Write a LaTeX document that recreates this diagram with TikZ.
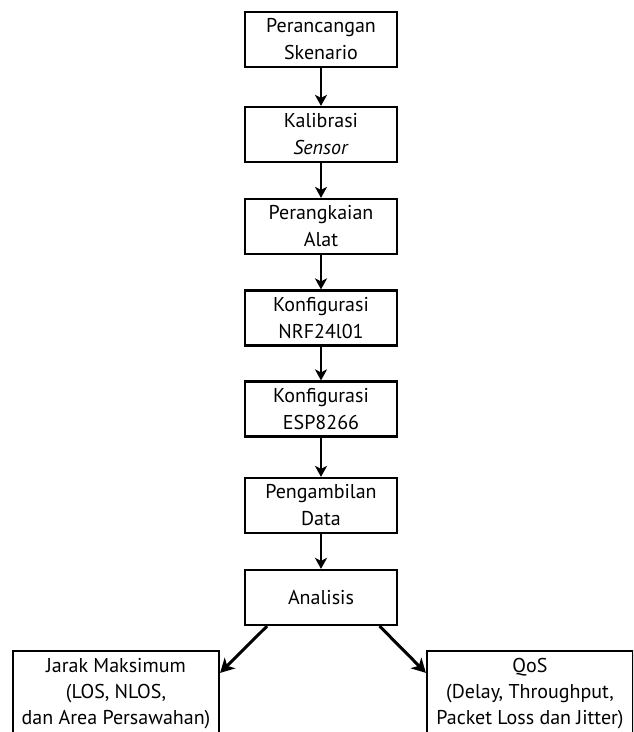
\documentclass[tikz,border=0pt]{standalone}
\usepackage{fontspec}
\setmainfont{PT Sans}
\usetikzlibrary{arrows.meta,calc}
\tikzset{
  stepbox/.style={draw=black, line width=2.2pt, fill=white, minimum width=152pt, minimum height=55pt,
    inner sep=0pt, align=center, font=\fontsize{20}{27}\selectfont},
  endbox/.style={draw=black, line width=2.2pt, fill=white, minimum width=206pt, minimum height=86pt,
    inner sep=0pt, align=center, font=\fontsize{20}{26}\selectfont},
  flow/.style={line width=2pt, -{Stealth[length=11pt,width=12pt,inset=3pt]}},
  split/.style={line width=3pt, -{Stealth[length=14pt,width=15pt,inset=4pt]}}
}
\begin{document}
\begin{tikzpicture}[x=1pt,y=-1pt]
\path[use as bounding box, clip] (0,0) rectangle (633,732);
\node[stepbox] (s1) at (321,39.5) {Perancangan\\Skenario};
\node[stepbox] (s2) at (321,134.5) {Kalibrasi\\\textit{Sensor}};
\node[stepbox] (s3) at (321,226.5) {Perangkaian\\Alat};
\node[stepbox] (s4) at (321,318) {Konfigurasi\\NRF24l01};
\node[stepbox] (s5) at (321,409) {Konfigurasi\\ESP8266};
\node[stepbox] (s6) at (321,505.5) {Pengambilan\\Data};
\node[stepbox] (s7) at (321,597.5) {Analisis};
\node[endbox] (jr) at (116,694) {Jarak Maksimum\\(LOS, NLOS,\\dan Area Persawahan)};
\node[endbox] (qs) at (530,694) {QoS\\(Delay, Throughput,\\Packet Loss dan Jitter)};
\draw[flow] (s1) -- (s2);
\draw[flow] (s2) -- (s3);
\draw[flow] (s3) -- (s4);
\draw[flow] (s4) -- (s5);
\draw[flow] (s5) -- (s6);
\draw[flow] (s6) -- (s7);
\coordinate (aL) at ($(s7.south west)!0.15!(s7.south east)$);
\coordinate (aR) at ($(s7.south west)!0.88!(s7.south east)$);
\coordinate (eL) at ([yshift=-23pt]jr.north east);
\coordinate (eR) at ([yshift=-23pt]qs.north west);
\draw[split] (aL) -- (eL);
\draw[split] (aR) -- (eR);
\end{tikzpicture}
\end{document}
